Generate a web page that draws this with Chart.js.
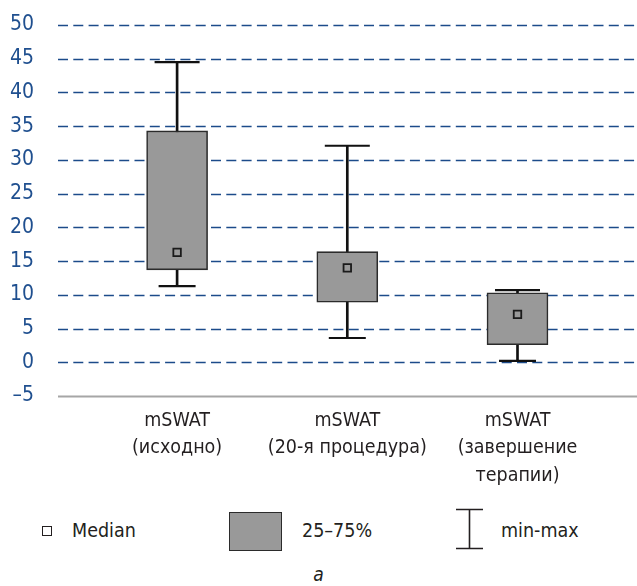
<!DOCTYPE html>
<html lang="ru">
<head>
<meta charset="utf-8">
<script src="https://cdn.jsdelivr.net/npm/chart.js@4.4.1/dist/chart.umd.min.js"></script>
<style>
  html, body { margin: 0; padding: 0; background: #fff; }
  #wrap {
    position: relative; width: 637px; height: 586px; overflow: hidden;
    font-family: 'Liberation Sans Narrow', 'Arial Narrow', 'DejaVu Sans Condensed', sans-serif;
    color: #231f20;
  }
  #chart { position: absolute; left: 0; top: 0; }
  .lg-text { position: absolute; font-size: 19.5px; line-height: 20px; top: 521px; white-space: nowrap; }
  .sym { position: absolute; box-sizing: border-box; }
  #symMedian { left: 42px; top: 526px; width: 10px; height: 10px; border: 1.3px solid #231f20; background: #fff; }
  #symBox { left: 229px; top: 512px; width: 53px; height: 39px; border: 1.5px solid #2b2b2b; background: #999; }
  #symRange { left: 456px; top: 508px; width: 28px; height: 42px; }
  #caption { position: absolute; left: 0; width: 637px; top: 563px; text-align: center; font-style: italic; font-size: 19px; line-height: 22px; }
</style>
</head>
<body>
<div id="wrap">
  <canvas id="chart" width="637" height="500"></canvas>

  <div class="sym" id="symMedian"></div>
  <div class="lg-text" style="left:72px">Median</div>

  <div class="sym" id="symBox"></div>
  <div class="lg-text" style="left:302px">25–75%</div>

  <svg class="sym" id="symRange" viewBox="0 0 28 42">
    <path d="M0 1.5 H27 M13.5 1.5 V40.5 M0 40.5 H27" stroke="#231f20" stroke-width="1.6" fill="none"/>
  </svg>
  <div class="lg-text" style="left:501px">min-max</div>

  <div id="caption">а</div>
</div>

<script>
// Groups along the x axis
const categories = [
  ['mSWAT', '(исходно)'],
  ['mSWAT', '(20-я процедура)'],
  ['mSWAT', '(завершение', 'терапии)']
];

// Box-plot statistics per group
const minValues    = [11.3, 3.6, 0.2];
const q1Values     = [13.7, 8.9, 2.6];
const medianValues = [16.3, 14.0, 7.1];
const q3Values     = [34.3, 16.4, 10.3];
const maxValues    = [44.5, 32.1, 10.7];

// Value axis
const yMin = -5;
const yMax = 50;
const yStep = 5;

const FONT = "'Liberation Sans Narrow', 'Arial Narrow', 'DejaVu Sans Condensed', sans-serif";
const GRID_LEFT = 58;

const boxData = categories.map((_, i) => [q1Values[i], q3Values[i]]);
const rangeData = categories.map((_, i) => [minValues[i], maxValues[i]]);

// Horizontal grid that runs the full width, under the boxes
const extendedGrid = {
  id: 'extendedGrid',
  beforeDatasetsDraw(chart) {
    const y = chart.scales.y;
    const ctx = chart.ctx;
    ctx.save();
    y.ticks.forEach(t => {
      const py = Math.round(y.getPixelForValue(t.value)) + 0.5;
      ctx.beginPath();
      if (t.value === yMin) {
        ctx.setLineDash([]);
        ctx.strokeStyle = '#a6a6a6';
        ctx.lineWidth = 2;
      } else {
        ctx.setLineDash([10, 5.3]);
        ctx.strokeStyle = '#1c4b8a';
        ctx.lineWidth = 1.4;
      }
      ctx.moveTo(GRID_LEFT, py);
      ctx.lineTo(chart.width, py);
      ctx.stroke();
    });
    ctx.restore();
  }
};

new Chart(document.getElementById('chart'), {
  type: 'bar',
  data: {
    labels: categories,
    datasets: [
      {
        label: 'min-max',
        data: rangeData,
        backgroundColor: '#111111',
        borderWidth: 0,
        barThickness: 2,
        grouped: false,
        order: 4
      },
      {
        label: '25–75%',
        data: boxData,
        backgroundColor: '#999999',
        borderColor: '#2b2b2b',
        borderWidth: 1.6,
        borderSkipped: false,
        barThickness: 61,
        grouped: false,
        order: 3
      },
      {
        type: 'line',
        label: 'max',
        data: maxValues,
        showLine: false,
        pointStyle: 'line',
        pointRadius: 22.5,
        pointBorderWidth: 2.2,
        pointBorderColor: '#111111',
        order: 2
      },
      {
        type: 'line',
        label: 'min',
        data: minValues,
        showLine: false,
        pointStyle: 'line',
        pointRadius: 18.5,
        pointBorderWidth: 2.2,
        pointBorderColor: '#111111',
        order: 2
      },
      {
        type: 'line',
        label: 'Median',
        data: medianValues,
        showLine: false,
        pointStyle: 'rect',
        pointRadius: 5.3,
        pointBorderWidth: 1.8,
        pointBackgroundColor: '#999999',
        pointBorderColor: '#1a1a1a',
        order: 1
      }
    ]
  },
  options: {
    responsive: false,
    maintainAspectRatio: false,
    animation: false,
    events: [],
    layout: { padding: { top: 25, right: 34.4, bottom: 0, left: 0 } },
    plugins: {
      legend: { display: false },
      tooltip: { enabled: false }
    },
    scales: {
      x: {
        grid: { display: false, drawTicks: false },
        border: { display: false },
        ticks: {
          color: '#231f20',
          padding: 11,
          maxRotation: 0,
          autoSkip: false,
          font: { family: FONT, size: 19.5, lineHeight: 1.41 }
        },
        afterFit(scale) { scale.height = 104; }
      },
      y: {
        min: yMin,
        max: yMax,
        grid: { display: false, drawTicks: false, tickLength: 0 },
        border: { display: false },
        ticks: {
          stepSize: yStep,
          color: '#1f4f8f',
          padding: 58,
          font: { family: FONT, size: 21 },
          callback: v => (v < 0 ? '–' + Math.abs(v) : String(v))
        },
        afterFit(scale) {
          scale.width = 92;
          // label gap is horizontal only; keep the plot top/bottom fixed by layout padding
          scale.paddingTop = 0;
          scale.paddingBottom = 0;
        }
      }
    }
  },
  plugins: [extendedGrid]
});
</script>
</body>
</html>
